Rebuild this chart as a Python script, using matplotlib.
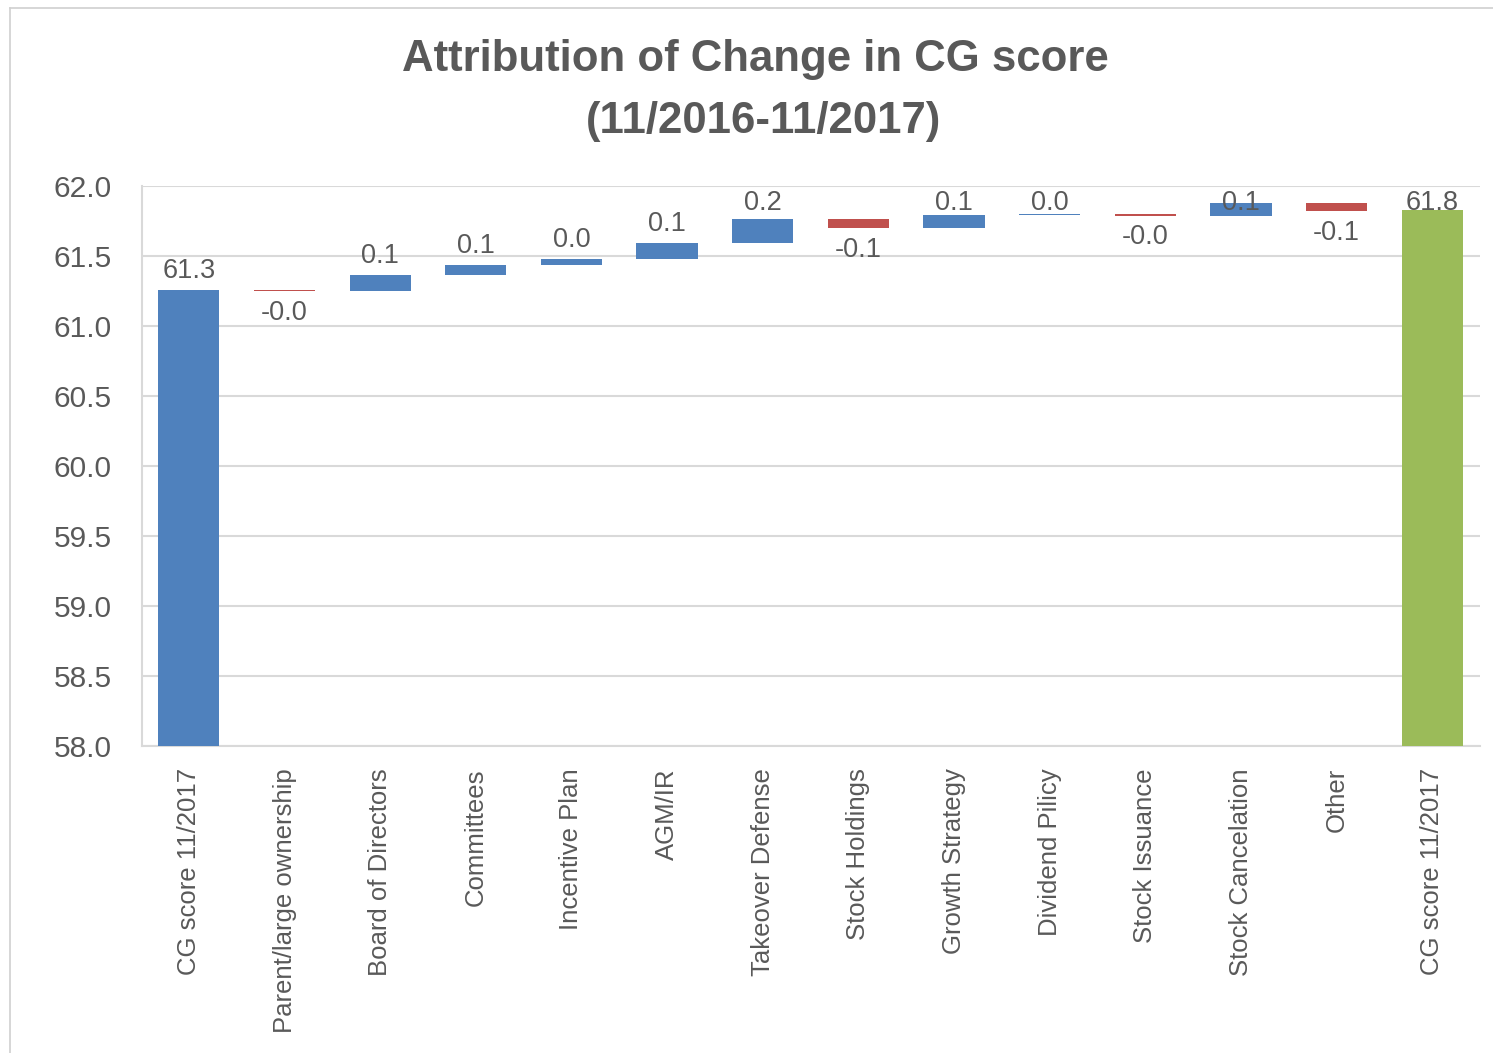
import matplotlib
matplotlib.use("Agg")
import matplotlib.pyplot as plt
from matplotlib import font_manager
from matplotlib.lines import Line2D

# ---- data ----
categories = ["CG score 11/2017", "Parent/large ownership", "Board of Directors",
              "Committees", "Incentive Plan", "AGM/IR", "Takeover Defense",
              "Stock Holdings", "Growth Strategy", "Dividend Pilicy",
              "Stock Issuance", "Stock Cancelation", "Other", "CG score 11/2017"]
start_value = 61.26
changes = [-0.01, 0.114, 0.074, 0.041, 0.112, 0.171, -0.064, 0.095, 0.009,
           -0.014, 0.088, -0.055]
end_value = 61.83
y_ticks = [58.0, 58.5, 59.0, 59.5, 60.0, 60.5, 61.0, 61.5, 62.0]

# ---- fonts ----
avail = {f.name for f in font_manager.fontManager.ttflist}
narrow = "Liberation Sans Narrow" if "Liberation Sans Narrow" in avail else "Liberation Sans"
regular = "Liberation Sans"

TXT = "#595959"
BLUE = "#4F81BD"
RED = "#C0504D"
GREEN = "#9BBB59"
GRID = "#D9D9D9"

W, H = 1493, 1053
fig = plt.figure(figsize=(W / 100, H / 100), dpi=100)

# chart area border (cut off at right / bottom)
fig.add_artist(Line2D([10 / W, 10 / W], [0, 1 - 8 / H], transform=fig.transFigure,
                      color="#D0D0D0", lw=1.2))
fig.add_artist(Line2D([10 / W, 1], [1 - 8 / H, 1 - 8 / H], transform=fig.transFigure,
                      color="#D0D0D0", lw=1.2))

left, right, top, bottom = 142, 1480, 186, 746
ax = fig.add_axes([left / W, 1 - bottom / H, (right - left) / W, (bottom - top) / H])

n = len(categories)
x = list(range(n))
width = 0.64
LBL = 19.5
UP = 0.135      # label centre offset above a bar top (data units)
DOWN = 0.155    # label centre offset below a bar bottom
CAP = 61.879    # labels are kept inside the plot area


def label(i, yc, text):
    ax.text(i, yc, text, ha="center", va="center", fontsize=LBL, color=TXT,
            family=narrow, zorder=5)


# first total bar
ax.bar(0, start_value - 58.0, bottom=58.0, width=width, color=BLUE, zorder=3)
label(0, min(start_value + UP, CAP), f"{start_value:.1f}")

cum = start_value
for i, c in enumerate(changes, start=1):
    lo = min(cum, cum + c)
    color = BLUE if c >= 0 else RED
    ax.bar(i, abs(c), bottom=lo, width=width, color=color, zorder=3)
    if c >= 0:
        label(i, min(cum + c + UP, CAP), f"{c:.1f}")
    else:
        label(i, cum + c - DOWN, f"{c:.1f}")
    cum += c

# final total bar
ax.bar(n - 1, end_value - 58.0, bottom=58.0, width=width, color=GREEN, zorder=3)
label(n - 1, min(end_value + UP, CAP), f"{end_value:.1f}")

ax.set_ylim(58.0, 62.0)
ax.set_xlim(-0.49, n - 0.5)
ax.set_yticks(y_ticks)
ax.set_yticklabels([f"{v:.1f}" for v in y_ticks], fontsize=21.5, color=TXT, family=regular)
ax.set_xticks(x)
ax.set_xticklabels(categories, rotation=90, fontsize=18.5, color=TXT, family=regular)
ax.tick_params(axis="both", length=0)
ax.tick_params(axis="y", pad=22)
ax.tick_params(axis="x", pad=16)
ax.yaxis.grid(True, color=GRID, lw=1.5, zorder=0)
ax.set_axisbelow(True)
for s in ["top", "right"]:
    ax.spines[s].set_visible(False)
for s in ["left", "bottom"]:
    ax.spines[s].set_color(GRID)
    ax.spines[s].set_linewidth(1.5)

fig.text(755 / W, 1 - 60 / H, "Attribution of Change in CG score", ha="center",
         va="center", fontsize=31.5, fontweight="bold", color=TXT, family=regular)
fig.text(763 / W, 1 - 122 / H, "(11/2016-11/2017)", ha="center",
         va="center", fontsize=31.5, fontweight="bold", color=TXT, family=regular)

fig.savefig("out.png", dpi=100, facecolor="white")
